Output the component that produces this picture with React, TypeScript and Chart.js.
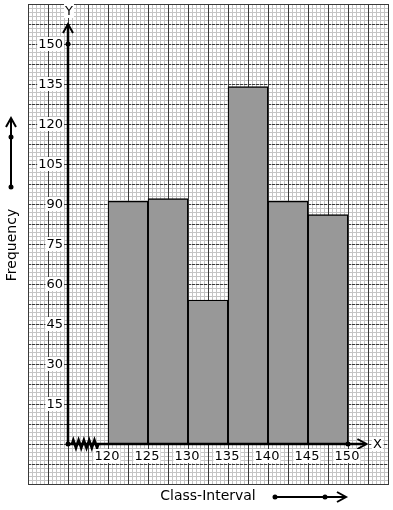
import React, { useEffect, useRef } from "react";
import { Chart, registerables } from "chart.js";

Chart.register(...registerables);

// ---- data ----
const classStarts = [120, 125, 130, 135, 140, 145];
const classWidth = 5;
const frequencies = [91, 92, 54, 134, 91, 86];
const xTickValues = [120, 125, 130, 135, 140, 145, 150];
const yTickValues = [15, 30, 45, 60, 75, 90, 105, 120, 135, 150];
const xTitle = "Class-Interval";
const yTitle = "Frequency";

// scale ranges (graph paper extent)
const X_MIN = 110;
const X_MAX = 155;
const Y_MIN = -15;
const Y_MAX = 165;
const X_ORIGIN = 115;

const FONT = '"DejaVu Sans", sans-serif';

const paperPlugin = {
  id: "paper",
  beforeDatasetsDraw(chart: any) {
    const { ctx, chartArea: a, scales } = chart;
    const x = scales.x;
    const y = scales.y;
    ctx.save();
    ctx.fillStyle = "#ffffff";
    ctx.fillRect(a.left, a.top, a.right - a.left, a.bottom - a.top);
    // minor grid
    ctx.strokeStyle = "#c4c4c4";
    ctx.lineWidth = 1;
    ctx.beginPath();
    for (let i = 0; X_MIN + i * 0.5 <= X_MAX + 1e-9; i++) {
      const px = Math.round(x.getPixelForValue(X_MIN + i * 0.5)) + 0.5;
      ctx.moveTo(px, a.top);
      ctx.lineTo(px, a.bottom);
    }
    for (let i = 0; Y_MIN + i * 1.5 <= Y_MAX + 1e-9; i++) {
      const py = Math.round(y.getPixelForValue(Y_MIN + i * 1.5)) + 0.5;
      ctx.moveTo(a.left, py);
      ctx.lineTo(a.right, py);
    }
    ctx.stroke();
    // major grid verticals (solid)
    ctx.strokeStyle = "#3a3a3a";
    ctx.beginPath();
    for (let i = 0; X_MIN + i * 2.5 <= X_MAX + 1e-9; i++) {
      const px = Math.round(x.getPixelForValue(X_MIN + i * 2.5)) + 0.5;
      ctx.moveTo(px, a.top);
      ctx.lineTo(px, a.bottom);
    }
    ctx.stroke();
    // major grid horizontals (dashed)
    ctx.setLineDash([3, 1]);
    ctx.beginPath();
    for (let i = 0; Y_MIN + i * 7.5 <= Y_MAX + 1e-9; i++) {
      const py = Math.round(y.getPixelForValue(Y_MIN + i * 7.5)) + 0.5;
      ctx.moveTo(a.left, py);
      ctx.lineTo(a.right, py);
    }
    ctx.stroke();
    ctx.setLineDash([]);
    ctx.strokeRect(a.left + 0.5, a.top + 0.5, a.right - a.left, a.bottom - a.top);
    ctx.restore();
  },
  afterDatasetsDraw(chart: any) {
    const { ctx, scales } = chart;
    const x = scales.x;
    const y = scales.y;
    const ox = x.getPixelForValue(X_ORIGIN);
    const oy = y.getPixelForValue(0);
    ctx.save();
    ctx.strokeStyle = "#000";
    ctx.fillStyle = "#000";
    ctx.lineCap = "butt";

    // x axis
    const xTip = x.getPixelForValue(152.3);
    ctx.lineWidth = 2.5;
    ctx.beginPath();
    ctx.moveTo(ox, oy);
    ctx.lineTo(xTip, oy);
    ctx.stroke();
    ctx.lineWidth = 2;
    ctx.beginPath();
    ctx.moveTo(xTip - 9, oy - 5);
    ctx.lineTo(xTip, oy);
    ctx.lineTo(xTip - 9, oy + 5);
    ctx.stroke();

    // y axis
    const yTip = y.getPixelForValue(157.5);
    ctx.lineWidth = 2.5;
    ctx.beginPath();
    ctx.moveTo(ox, oy);
    ctx.lineTo(ox, yTip);
    ctx.stroke();
    ctx.lineWidth = 2;
    ctx.beginPath();
    ctx.moveTo(ox - 5, yTip + 9);
    ctx.lineTo(ox, yTip);
    ctx.lineTo(ox + 5, yTip + 9);
    ctx.stroke();

    // zig-zag (axis break)
    const z0 = x.getPixelForValue(115.5);
    const z1 = x.getPixelForValue(118.8);
    const teeth = 5;
    const step = (z1 - z0) / (teeth * 2);
    ctx.lineWidth = 2.5;
    ctx.beginPath();
    ctx.moveTo(z0, oy);
    for (let i = 0; i < teeth * 2; i++) {
      ctx.lineTo(z0 + step * (i + 0.5), oy + (i % 2 === 0 ? -4 : 4));
    }
    ctx.lineTo(z1, oy);
    ctx.stroke();

    // dots
    const dot = (px: number, py: number) => {
      ctx.beginPath();
      ctx.arc(px, py, 2.5, 0, Math.PI * 2);
      ctx.fill();
    };
    dot(ox, oy);
    dot(ox, y.getPixelForValue(150));
    dot(x.getPixelForValue(150), oy);

    // tick labels
    ctx.font = "13px " + FONT;
    ctx.textBaseline = "middle";
    const label = (text: string, px: number, py: number, align: "right" | "center") => {
      const w = ctx.measureText(text).width;
      const left = align === "right" ? px - w : px - w / 2;
      ctx.fillStyle = "#fff";
      ctx.fillRect(left - 1, py - 7, w + 2, 14);
      ctx.fillStyle = "#000";
      ctx.textAlign = align;
      ctx.fillText(text, px, py + 0.5);
    };
    yTickValues.forEach((v) => label(String(v), ox - 5, y.getPixelForValue(v), "right"));
    xTickValues.forEach((v) => label(String(v), x.getPixelForValue(v) - 1, oy + 12, "center"));

    // axis letters
    label("X", xTip + 11, oy, "center");
    label("Y", ox + 1, yTip - 13, "center");

    // titles (outside paper)
    ctx.fillStyle = "#000";
    ctx.font = "14px " + FONT;
    ctx.textAlign = "center";
    ctx.textBaseline = "middle";
    ctx.fillText(xTitle, 208, 496);
    ctx.save();
    ctx.translate(12, 245);
    ctx.rotate(-Math.PI / 2);
    ctx.fillText(yTitle, 0, 0);
    ctx.restore();

    // decorative arrows next to titles
    ctx.lineWidth = 2;
    ctx.beginPath();
    ctx.moveTo(11, 187);
    ctx.lineTo(11, 119);
    ctx.stroke();
    ctx.beginPath();
    ctx.moveTo(6, 127);
    ctx.lineTo(11, 118);
    ctx.lineTo(16, 127);
    ctx.stroke();
    dot(11, 137);
    dot(11, 187);

    ctx.beginPath();
    ctx.moveTo(275, 497);
    ctx.lineTo(345, 497);
    ctx.stroke();
    ctx.beginPath();
    ctx.moveTo(337, 492);
    ctx.lineTo(346, 497);
    ctx.lineTo(337, 502);
    ctx.stroke();
    dot(275, 497);
    dot(325, 497);

    ctx.restore();
  },
};

export default function App() {
  const ref = useRef<HTMLCanvasElement | null>(null);
  useEffect(() => {
    if (!ref.current) return;
    const chart = new Chart(ref.current, {
      type: "bar",
      data: {
        datasets: [
          {
            data: classStarts.map((s, i) => ({ x: s + classWidth / 2, y: frequencies[i] })),
            backgroundColor: "#989898",
            borderColor: "#000000",
            borderWidth: 1.3,
            borderSkipped: "start",
            barPercentage: 1,
            categoryPercentage: 1,
            grouped: false,
          } as any,
        ],
      },
      options: {
        animation: false,
        responsive: false,
        devicePixelRatio: 1,
        layout: { padding: { left: 28, right: 5, top: 4, bottom: 26 } },
        plugins: { legend: { display: false }, tooltip: { enabled: false } },
        scales: {
          x: { type: "linear", min: X_MIN, max: X_MAX, display: false, offset: false },
          y: { type: "linear", min: Y_MIN, max: Y_MAX, display: false },
        },
      },
      plugins: [paperPlugin],
    });
    return () => chart.destroy();
  }, []);
  return (
    <div style={{ position: "absolute", left: 0, top: 0, width: 393, height: 510, background: "#fff" }}>
      <canvas ref={ref} width={393} height={510} style={{ display: "block", width: 393, height: 510 }} />
    </div>
  );
}
